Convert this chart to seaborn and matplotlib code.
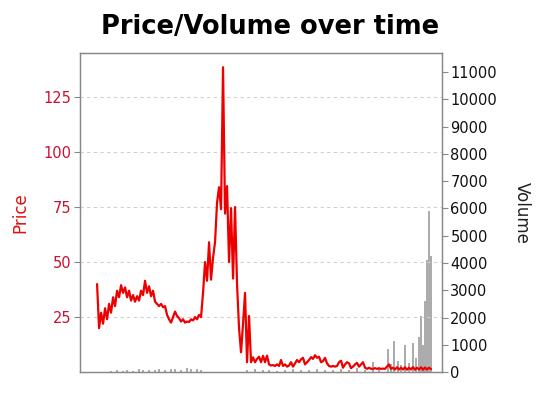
import numpy as np
import matplotlib
matplotlib.use("Agg")
import matplotlib.pyplot as plt
import seaborn as sns

# closing price, one reading every 2 time steps
price = [40, 20, 27, 22, 29, 24, 31, 27, 34, 30, 37, 34, 39.5, 36, 38.5, 34, 37, 32.5,
         35, 32, 34.5, 32.5, 37, 35, 41.5, 36, 39, 34.5, 37, 32, 31, 30, 31, 29.5, 30, 26,
         24, 22.5, 25, 27.5, 25.5, 24.5, 23, 24, 22.5, 23, 22.8, 24, 23.5, 25, 24, 26, 25,
         36, 50, 41.5, 59, 42, 52, 59, 77, 84, 74, 138.5, 72, 84.5, 50, 74.5, 42.5, 75, 40,
         20, 9, 22, 36, 4.5, 25.5, 4.5, 6.7, 4.5, 6, 7, 4.5, 7.4, 4.5, 7.5, 3.5,
         3, 3.2, 2.8, 3.5, 2.8, 5.5, 2.8, 3.5, 2.5, 3, 4.5, 2.5, 4, 5.5, 4.5, 5.8, 6.5, 3.5,
         4.5, 5.5, 6.8, 6, 7.7, 6.5, 7, 4.5, 5, 6.5, 4, 2.8, 2.5, 2.8, 2.5, 2.8, 4.5, 5.2,
         2, 3.5, 4.5, 4, 1.8, 2.5, 3.5, 4.2, 2.5, 3.5, 4.5, 2, 1.5, 2, 1.5, 1.5, 1.8, 1.5,
         1.7, 1.5, 1.6, 1.5, 2.5, 3.5, 1.5, 2, 1.2, 2.2, 1.2, 2, 1.2, 2.2, 1.1, 2, 1.2, 2.3,
         1.1, 2, 1.2, 2.2, 1.1, 2.1, 1.2, 2, 1.4]
weeks = np.arange(0, 2 * len(price), 2)

# traded volume
vol_weeks = [14, 20, 26, 30, 36, 42, 46, 52, 58, 62, 68, 74, 78, 84, 90, 94, 100, 104,
             150, 158, 166, 172, 180, 188, 196, 204, 212, 220, 228, 236, 244, 252, 260,
             268, 276, 282,
             291, 294, 297, 301, 304, 308, 312, 316, 319, 322, 324, 326, 328, 330, 332, 334]
volume = [30, 60, 40, 80, 50, 110, 70, 60, 90, 120, 80, 100, 130, 90, 140, 110, 120, 90,
          80, 120, 60, 90, 50, 70, 100, 60, 80, 130, 70, 90, 110, 60, 150, 90, 380, 200,
          850, 300, 1150, 400, 250, 1000, 350, 1050, 500, 1300, 2050, 1000, 2600, 4100,
          5900, 4250]

year_ticks = [0, 96, 193, 290]
price_ticks = [25, 50, 75, 100, 125]
volume_ticks = list(range(0, 12000, 1000))

sns.set_style("white")
plt.rcParams['font.family'] = ['DejaVu Sans']

fig = plt.figure(figsize=(5.41, 4.01), dpi=100)
ax = fig.add_axes([0.148, 0.072, 0.669, 0.796])
ax2 = ax.twinx()

ax2.bar(vol_weeks, volume, width=1.3, color="#808080", alpha=0.65, linewidth=0)
sns.lineplot(x=weeks, y=price, ax=ax, color="#ee0000", linewidth=1.6)

ax.set_zorder(ax2.get_zorder() + 1)
ax.patch.set_visible(False)

ax.set_xlim(-17, 345)
ax.set_ylim(0, 145)
ax2.set_ylim(0, 11700)

ax.set_xticks(year_ticks)
ax.set_xticklabels([])
ax.set_yticks(price_ticks)
ax.set_yticklabels([str(v) for v in price_ticks], color="#cc1133", fontsize=10.5)
ax2.set_yticks(volume_ticks)
ax2.set_yticklabels([str(v) for v in volume_ticks], color="#111111", fontsize=10.5)

ax.grid(axis="y", color="#d0d0d0", linestyle=(0, (3, 3)), linewidth=0.8)
ax.grid(axis="x", visible=False)

for a in (ax, ax2):
    for s in a.spines.values():
        s.set_color("#888888")
        s.set_linewidth(0.9)
    a.tick_params(direction="out", length=4, width=0.8, color="#888888", pad=2)

ax.set_ylabel("Price", color="#dd1111", fontsize=12, labelpad=10)
ax2.set_ylabel("Volume", color="#222222", fontsize=12, rotation=270, labelpad=24)

fig.suptitle("Price/Volume over time", fontsize=18.5, fontweight="bold",
             color="black", y=0.965)

fig.savefig("out.png", dpi=100)
